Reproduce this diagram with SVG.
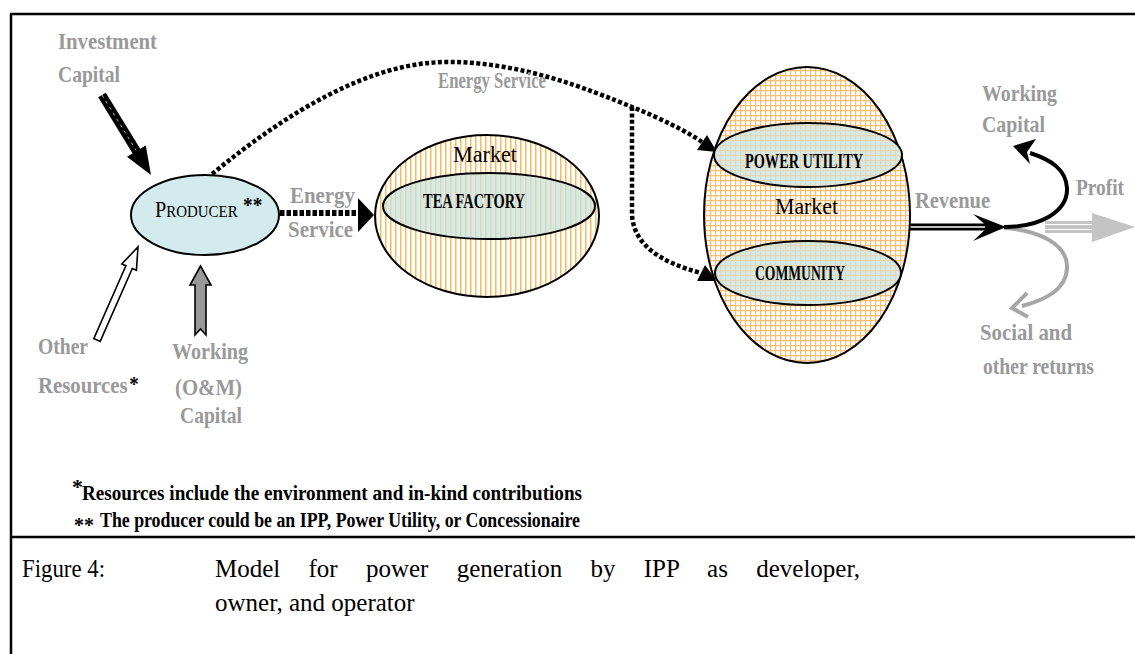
<svg xmlns="http://www.w3.org/2000/svg" width="1135" height="654" viewBox="0 0 1135 654">
<style>
.lbl{font-family:"Liberation Serif",serif;font-weight:bold;fill:#999999;font-size:24px}
.blk{font-family:"Liberation Serif",serif;font-weight:bold;fill:#000;font-size:20px}
.mkt{font-family:"Liberation Serif",serif;fill:#000;font-size:23px}
.fn{font-family:"Liberation Serif",serif;font-weight:bold;fill:#000;font-size:20px}
.cap{font-family:"Liberation Serif",serif;fill:#000;font-size:25px}
.ell{stroke:#000;stroke-width:2}
.dot{fill:none;stroke:#000;stroke-width:4.5;stroke-dasharray:4 2.4}
.frame{stroke:#000;stroke-width:2.5;fill:none}
</style>
<defs>
<pattern id="vs" width="5" height="5" patternUnits="userSpaceOnUse"><rect width="5" height="5" fill="#fff"/><rect width="1.5" height="5" fill="#f9b85c"/></pattern>
<pattern id="vso" width="5" height="5" patternUnits="userSpaceOnUse"><rect width="1.5" height="5" fill="#f9b85c" opacity="0.45"/></pattern>
<pattern id="gr" width="5" height="5" patternUnits="userSpaceOnUse"><rect width="5" height="5" fill="#fff"/><path d="M0 0.6H5M0.6 0V5" stroke="#fbbd6e" stroke-width="1.2"/></pattern>
<pattern id="gro" width="5" height="5" patternUnits="userSpaceOnUse"><path d="M0 0.6H5M0.6 0V5" stroke="#fbbd6e" stroke-width="1.2" opacity="0.45"/></pattern>
</defs>
<rect width="1135" height="654" fill="#fff"/>
<g id="frame">
<path class="frame" d="M10 14H1135M11 14V654M11 537H1135"/>
</g>
<g id="connectors">
<polygon points="105.8,92.7 140.2,148.7 145.8,145.4 151,175 127,156.8 132.6,153.5 98.2,97.3" fill="#000"/>
<path d="M102,95 L136,150" stroke="#fff" stroke-width="1" stroke-dasharray="3 4" opacity="0.7"/>
<polygon points="100.2,341.4 132.3,268.5 136.4,270.3 138,247 121.8,263.9 125.9,265.7 93.8,338.6" fill="#fff" stroke="#000" stroke-width="1.6"/>
<polygon points="195,335 200.5,329 206,335 206,285 211,285 200.5,266 190,285 195,285" fill="#999" stroke="#000" stroke-width="1.6"/>
<path class="dot" d="M212,174 C290,110 370,63 445,62 C520,61 590,90 632,107 C660,118 688,132 702,142"/>
<polygon points="717,152 697,150 707,135" fill="#000"/>
<path class="dot" d="M632,107 L632,215 C634,245 660,262 701,273"/>
<polygon points="717,281 697,281 705,265" fill="#000"/>
<path d="M280,213 H358" fill="none" stroke="#000" stroke-width="6" stroke-dasharray="4.5 2"/>
<polygon points="358,198 374,215 358,232" fill="#000"/>
<path d="M910,227 H995" stroke="#000" stroke-width="7"/>
<path d="M910,227 H985" stroke="#fff" stroke-width="1.5"/>
<polygon points="973,214 1006,227 973,241 988,227" fill="#000"/>
<path d="M1004,228 C1040,230 1068,245 1067,268 C1066,290 1045,300 1022,306" fill="none" stroke="#a6a6a6" stroke-width="4"/>
<path d="M1027,293 L1012,308 L1028,317" fill="none" stroke="#a6a6a6" stroke-width="4"/>
<rect x="1045" y="221" width="50" height="12" fill="#c4c4c4"/>
<path d="M1045,224.5H1095M1045,229.5H1095" stroke="#fff" stroke-width="1.2"/>
<polygon points="1092,213 1135,227 1092,242" fill="#c4c4c4"/>
<path d="M1004,227 C1040,227 1068,212 1067,188 C1066,170 1052,160 1030,153" fill="none" stroke="#000" stroke-width="4"/>
<polygon points="1013,146 1036,139 1027,152 1030,164" fill="#000"/>
</g>
<g id="producer">
<ellipse class="ell" cx="205" cy="215" rx="74" ry="40" fill="#d3ebec"/>
<text transform="translate(155,217) scale(0.88,1)" font-family="Liberation Serif,serif" font-size="23" fill="#000">P<tspan font-size="17">RODUCER</tspan><tspan dx="6" dy="-5" font-weight="bold" font-size="22">**</tspan></text>
</g>
<g id="tea-market">
<ellipse class="ell" cx="487" cy="216" rx="112" ry="81" fill="url(#vs)"/>
<text class="mkt" x="453" y="162" textLength="64" lengthAdjust="spacingAndGlyphs">Market</text>
</g>
<g id="tea-factory">
<ellipse class="ell" cx="489" cy="206" rx="106" ry="33" fill="#d3ebec"/>
<ellipse cx="489" cy="206" rx="105" ry="32" fill="url(#vso)"/>
<text class="blk" x="423" y="208" textLength="102" lengthAdjust="spacingAndGlyphs">TEA FACTORY</text>
</g>
<g id="market">
<ellipse class="ell" cx="807" cy="215" rx="103" ry="148" fill="url(#gr)"/>
<text class="mkt" x="775" y="214" textLength="63" lengthAdjust="spacingAndGlyphs">Market</text>
</g>
<g id="power-utility">
<ellipse class="ell" cx="808" cy="155" rx="94" ry="32" fill="#d3ebec"/>
<ellipse cx="808" cy="155" rx="93" ry="31" fill="url(#gro)"/>
<text class="blk" x="745" y="168" textLength="118" lengthAdjust="spacingAndGlyphs">POWER UTILITY</text>
</g>
<g id="community">
<ellipse class="ell" cx="808" cy="273" rx="93" ry="32" fill="#d3ebec"/>
<ellipse cx="808" cy="273" rx="92" ry="31" fill="url(#gro)"/>
<text class="blk" x="755" y="280" textLength="90" lengthAdjust="spacingAndGlyphs">COMMUNITY</text>
</g>
<g id="labels">
<text class="lbl" x="58" y="49" textLength="99" lengthAdjust="spacingAndGlyphs">Investment</text>
<text class="lbl" x="58" y="82" textLength="62" lengthAdjust="spacingAndGlyphs">Capital</text>
<text class="lbl" x="290" y="203" textLength="65" lengthAdjust="spacingAndGlyphs">Energy</text>
<text class="lbl" x="288" y="237" textLength="65" lengthAdjust="spacingAndGlyphs">Service</text>
<text class="lbl" x="438" y="88" textLength="108" lengthAdjust="spacingAndGlyphs">Energy Service</text>
<text class="lbl" x="38" y="354" textLength="50" lengthAdjust="spacingAndGlyphs">Other</text>
<text class="lbl" transform="translate(38,393) scale(0.865,1)">Resources<tspan fill="#000" font-size="22" dx="2" dy="-2">*</tspan></text>
<text class="lbl" x="172" y="359" textLength="76" lengthAdjust="spacingAndGlyphs">Working</text>
<text class="lbl" x="175" y="395" textLength="67" lengthAdjust="spacingAndGlyphs">(O&amp;M)</text>
<text class="lbl" x="180" y="423" textLength="62" lengthAdjust="spacingAndGlyphs">Capital</text>
<text class="lbl" x="982" y="101" textLength="75" lengthAdjust="spacingAndGlyphs">Working</text>
<text class="lbl" x="982" y="132" textLength="63" lengthAdjust="spacingAndGlyphs">Capital</text>
<text class="lbl" x="915" y="208" textLength="75" lengthAdjust="spacingAndGlyphs">Revenue</text>
<text class="lbl" x="1076" y="195" textLength="48" lengthAdjust="spacingAndGlyphs">Profit</text>
<text class="lbl" x="980" y="340" textLength="92" lengthAdjust="spacingAndGlyphs">Social and</text>
<text class="lbl" x="983" y="374" textLength="111" lengthAdjust="spacingAndGlyphs">other returns</text>
</g>
<g id="footnotes">
<text x="72" y="494" font-family="Liberation Serif,serif" font-weight="bold" font-size="22" fill="#000">*</text>
<text class="fn" x="82" y="500" textLength="500" lengthAdjust="spacingAndGlyphs">Resources include the environment and in-kind contributions</text>
<text x="74" y="532" font-family="Liberation Serif,serif" font-weight="bold" font-size="20" fill="#000">**</text>
<text class="fn" x="100" y="527" textLength="480" lengthAdjust="spacingAndGlyphs">The producer could be an IPP, Power Utility, or Concessionaire</text>
</g>
<g id="caption">
<text class="cap" x="22" y="577" textLength="83" lengthAdjust="spacingAndGlyphs">Figure 4:</text>
<text class="cap" x="215" y="577" word-spacing="22">Model for power generation by IPP as developer,</text>
<text class="cap" x="215" y="611">owner, and operator</text>
</g>
</svg>
